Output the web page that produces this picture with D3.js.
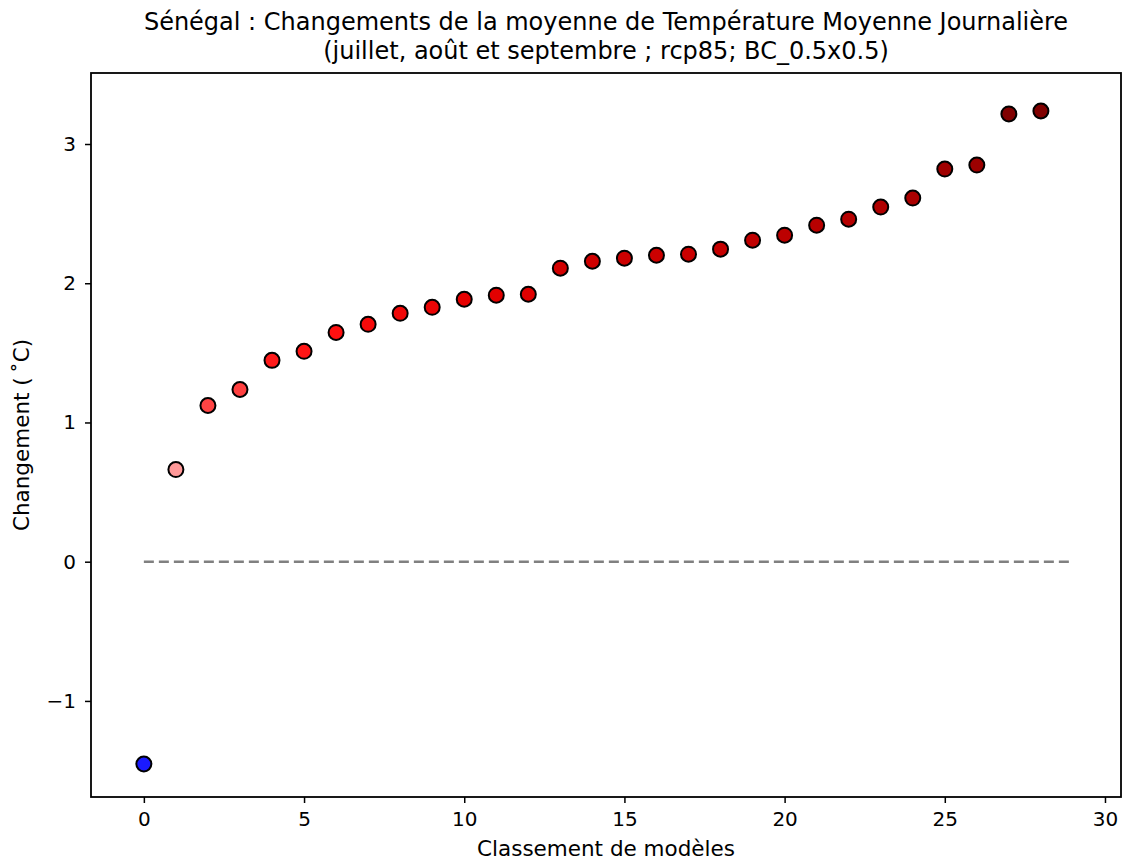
<!DOCTYPE html>
<html>
<head>
<meta charset="utf-8">
<script src="https://cdn.jsdelivr.net/npm/d3@7"></script>
<style>
body { margin: 0; background: #fff; }
svg text { font-family: "DejaVu Sans", sans-serif; fill: #000; }
</style>
</head>
<body>
<svg id="chart" width="1124" height="861"></svg>
<script>
// rang du modele et changement (degC)
var ranks = [0,1,2,3,4,5,6,7,8,9,10,11,12,13,14,15,16,17,18,19,20,21,22,23,24,25,26,27,28]
var changes = [-1.453, 0.662, 1.122, 1.237, 1.446, 1.511, 1.647, 1.705, 1.784, 1.827,
    1.885, 1.914, 1.921, 2.108, 2.158, 2.180, 2.201, 2.209, 2.245, 2.309,
    2.345, 2.417, 2.460, 2.547, 2.612, 2.820, 2.849, 3.216, 3.237]
var colors = ['#1a1aff', '#ff9999', '#ff4444', '#ff4040', '#ff1a1a', '#ff1515', '#ff1010', '#f70a0a', '#f00808', '#ea0505',
    '#e60000', '#e20000', '#e00000', '#d20000', '#cf0000', '#cc0000', '#cc0000', '#ca0000', '#c60000', '#c00000',
    '#bc0000', '#b80000', '#b50000', '#b00000', '#ab0000', '#a00000', '#9c0000', '#800000', '#800000']
var xTicks = [0, 5, 10, 15, 20, 25, 30]
var yTicks = [-1, 0, 1, 2, 3]
var zeroLine = [0, 29]

var svg = d3.select('#chart')
var mLeft = 91, mTop = 73, mRight = 1121, mBottom = 797

var x = d3.scaleLinear().domain([-1.65, 30.5]).range([mLeft, mRight])
var y = d3.scaleLinear().domain([-1.69, 3.51]).range([mBottom, mTop])

// axes
var xAxis = d3.axisBottom(x).tickValues(xTicks).tickSize(6).tickPadding(9)
var yAxis = d3.axisLeft(y).tickValues(yTicks).tickSize(6).tickPadding(9)
    .tickFormat(function (d) { return d < 0 ? '\u2212' + Math.abs(d) : d })

var gx = svg.append('g').attr('transform', 'translate(0,' + mBottom + ')').call(xAxis)
var gy = svg.append('g').attr('transform', 'translate(' + mLeft + ',0)').call(yAxis)
gx.select('.domain').remove()
gy.select('.domain').remove()
svg.selectAll('.tick line').attr('stroke', '#000').attr('stroke-width', 1.5)
svg.selectAll('.tick text').style('font-size', '20px')

// zero line
svg.append('line')
    .attr('x1', x(zeroLine[0])).attr('x2', x(zeroLine[1]))
    .attr('y1', y(0)).attr('y2', y(0))
    .attr('stroke', 'gray').attr('stroke-width', 2.5)
    .attr('stroke-dasharray', '10,5')

// points
svg.selectAll('circle.pt')
    .data(ranks)
    .enter()
    .append('circle')
    .attr('class', 'pt')
    .attr('cx', function (d) { return x(d) })
    .attr('cy', function (d, i) { return y(changes[i]) })
    .attr('r', 7.5)
    .attr('fill', function (d, i) { return colors[i] })
    .attr('stroke', '#000')
    .attr('stroke-width', 2)

// frame
svg.append('rect')
    .attr('x', mLeft).attr('y', mTop)
    .attr('width', mRight - mLeft).attr('height', mBottom - mTop)
    .attr('fill', 'none').attr('stroke', '#000').attr('stroke-width', 1.8)

// texts
svg.append('text').attr('x', (mLeft + mRight) / 2).attr('y', 30)
    .attr('text-anchor', 'middle').style('font-size', '24px')
    .text('Sénégal : Changements de la moyenne de Température Moyenne Journalière')
svg.append('text').attr('x', (mLeft + mRight) / 2).attr('y', 59)
    .attr('text-anchor', 'middle').style('font-size', '24px')
    .text('(juillet, août et septembre ; rcp85; BC_0.5x0.5)')
svg.append('text').attr('x', (mLeft + mRight) / 2).attr('y', 856)
    .attr('text-anchor', 'middle').style('font-size', '21.5px')
    .text('Classement de modèles')
svg.append('text')
    .attr('transform', 'translate(29,' + ((mTop + mBottom) / 2) + ') rotate(-90)')
    .attr('text-anchor', 'middle').style('font-size', '21.5px')
    .text('Changement (\u2009\u02DAC)')
</script>
</body>
</html>
